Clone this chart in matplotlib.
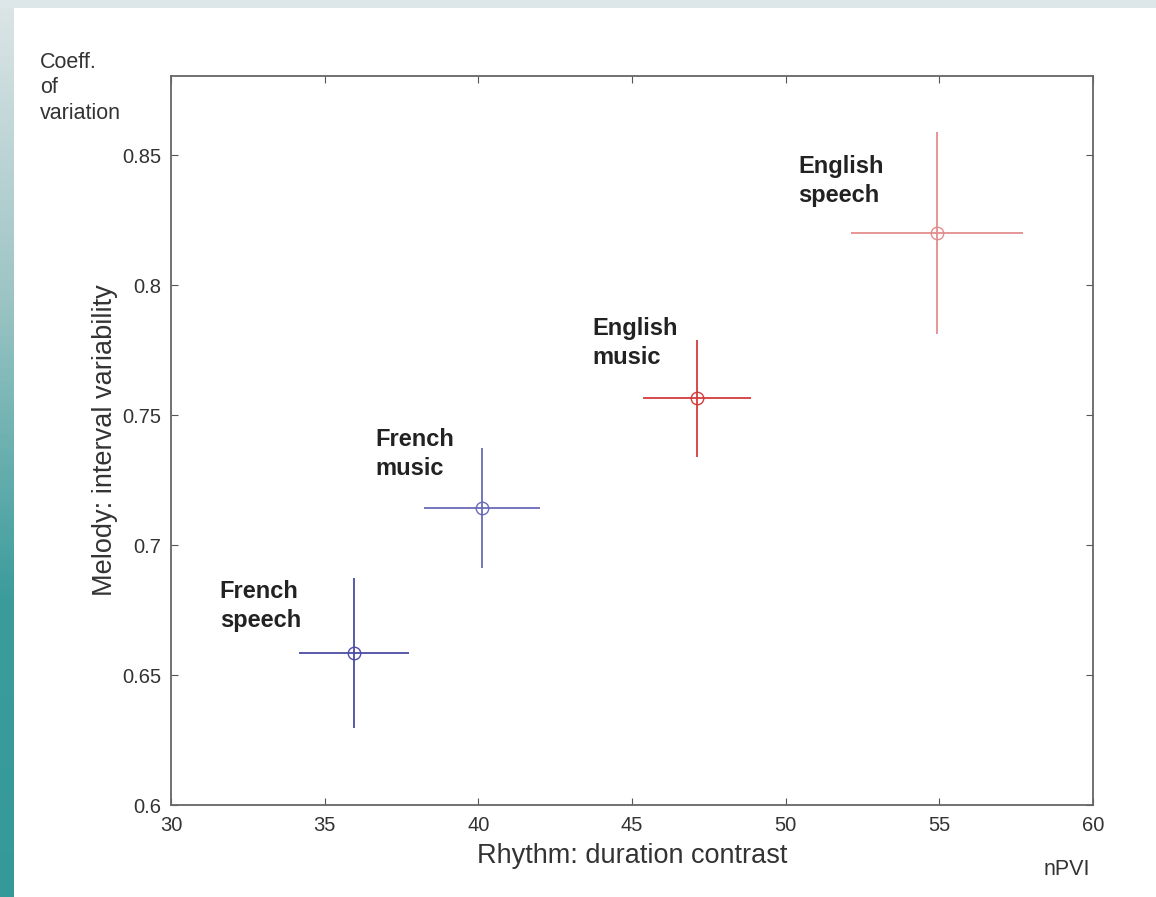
import numpy as np
import matplotlib
matplotlib.use("Agg")
import matplotlib.pyplot as plt
from matplotlib.colors import LinearSegmentedColormap

# ---- data ----
groups = ["French\nspeech", "French\nmusic", "English\nmusic", "English\nspeech"]
npvi = [35.95, 40.12, 47.12, 54.93]
npvi_err = [1.78, 1.90, 1.76, 2.80]
cov = [0.6585, 0.7142, 0.7565, 0.8200]
cov_err = [0.029, 0.023, 0.0225, 0.039]
colors = ["#4c4ca6", "#6a6ab8", "#d23c3c", "#e48c8c"]
label_pos = [(31.59, 0.6765), (36.64, 0.735), (43.70, 0.7777), (50.40, 0.840)]

xticks = [30, 35, 40, 45, 50, 55, 60]
yticks = [0.6, 0.65, 0.7, 0.75, 0.8, 0.85]
yticklabels = ["0.6", "0.65", "0.7", "0.75", "0.8", "0.85"]

plt.rcParams['font.family'] = ['Liberation Sans', 'DejaVu Sans']

W, H = 1156, 897
fig = plt.figure(figsize=(W / 100, H / 100), dpi=100)
fig.patch.set_facecolor("white")

# decorative background: top band and left gradient strip
bg = fig.add_axes([0, 0, 1, 1], zorder=-10)
bg.set_xlim(0, W); bg.set_ylim(H, 0); bg.axis("off")
bg.add_patch(plt.Rectangle((0, 0), W, 8, color="#dde6e8", lw=0))
cmap = LinearSegmentedColormap.from_list("strip", ["#dde5e6", "#9cc4c4", "#3c9c9c", "#35999a"])
grad = np.linspace(0, 1, 256).reshape(-1, 1)
bg.imshow(grad, cmap=cmap, extent=(0, 14, H, 0), aspect="auto")

ax = fig.add_axes([171 / W, 1 - 805 / H, (1093 - 171) / W, (805 - 76) / H])
ax.set_xlim(30, 60)
ax.set_ylim(0.6, 0.8804)

for x, xe, y, ye, c, lab, lp in zip(npvi, npvi_err, cov, cov_err, colors, groups, label_pos):
    ax.errorbar(x, y, xerr=xe, yerr=ye, fmt="o", mfc="none", mec=c, ms=9,
                ecolor=c, elinewidth=1.3, capsize=0, color=c)
    ax.text(lp[0], lp[1], lab, fontsize=17, fontweight="bold", color="#222222",
            ha="left", va="center", linespacing=1.3)

ax.set_xticks(xticks)
ax.set_yticks(yticks)
ax.set_yticklabels(yticklabels)
ax.tick_params(direction="in", top=True, right=True, length=5, width=0.8,
               colors="#555555", labelcolor="#333333", labelsize=14.5)
ax.tick_params(axis="x", pad=8)
ax.tick_params(axis="y", pad=7)
for s in ax.spines.values():
    s.set_color("#666666")
    s.set_linewidth(1.3)

ax.set_xlabel("Rhythm: duration contrast", fontsize=19.5, color="#333333", labelpad=6)
ax.set_ylabel("Melody: interval variability", fontsize=19.5, color="#333333", labelpad=3)

fig.text(40 / W, 1 - 52 / H, "Coeff.\nof\nvariation", fontsize=15.5, color="#333333",
         ha="left", va="top", linespacing=1.27)
fig.text(1067 / W, 1 - 869 / H, "nPVI", fontsize=15.5, color="#333333", ha="center", va="center")

fig.savefig("out.png", dpi=100, facecolor=fig.get_facecolor())
